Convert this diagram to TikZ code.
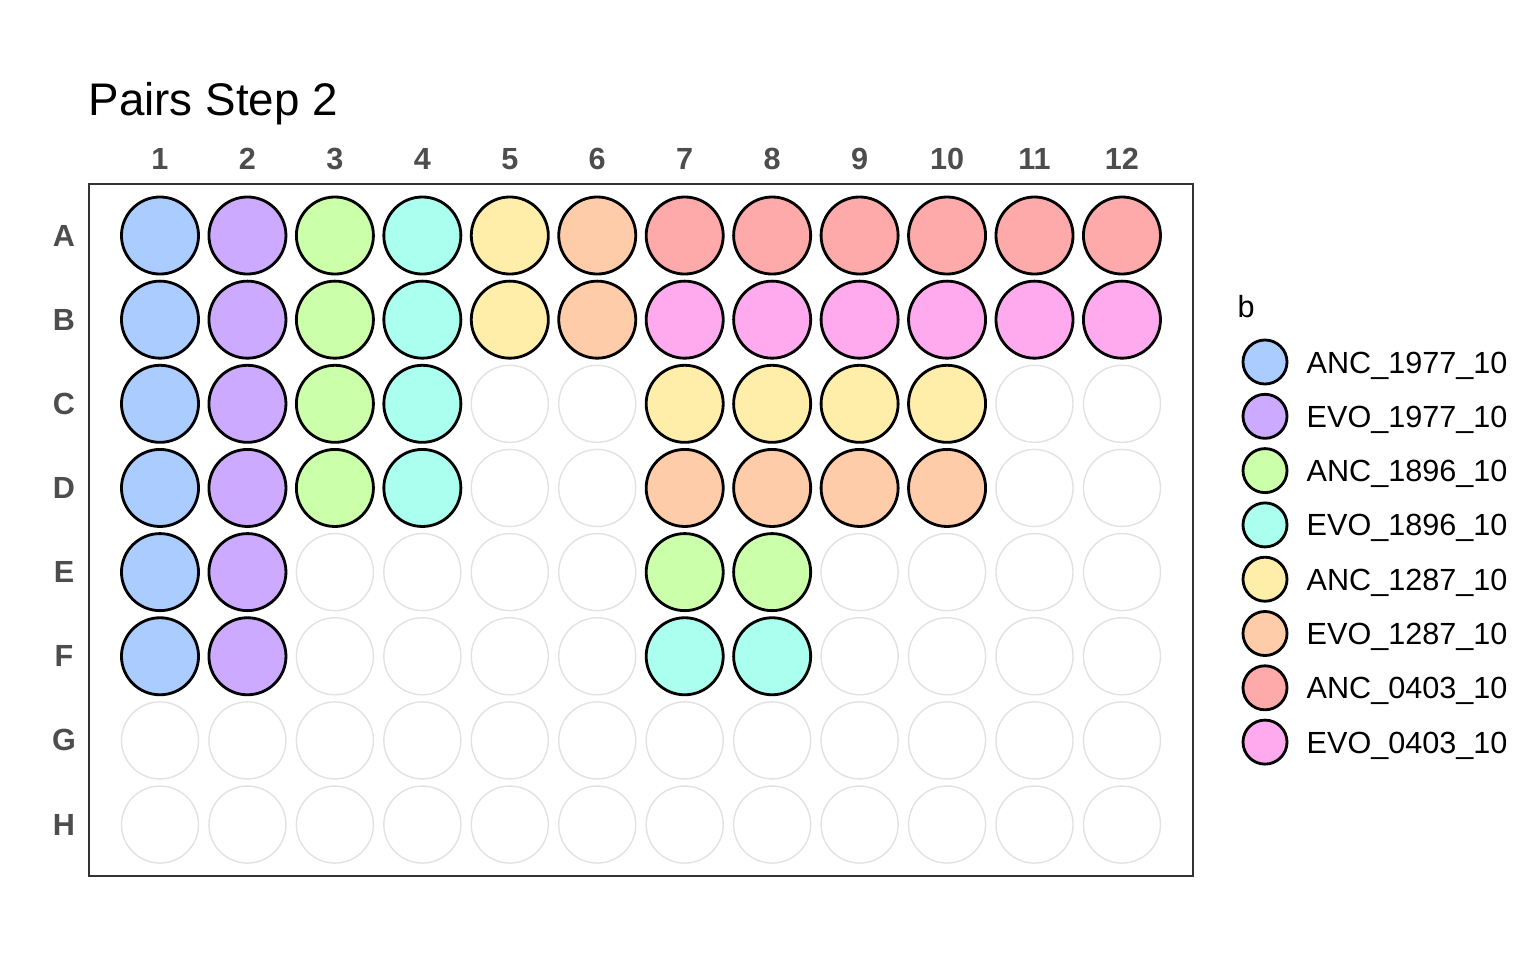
\documentclass[tikz,border=0pt]{standalone}
\usepackage{fontspec}
\setmainfont{Liberation Sans}
\usepackage{tikz}
\definecolor{ancblue}{RGB}{170, 204, 255}
\definecolor{evopurple}{RGB}{204, 170, 255}
\definecolor{ancgreen}{RGB}{204, 255, 170}
\definecolor{evocyan}{RGB}{170, 255, 238}
\definecolor{ancyellow}{RGB}{255, 238, 170}
\definecolor{evoorange}{RGB}{255, 204, 170}
\definecolor{ancred}{RGB}{255, 170, 170}
\definecolor{evopink}{RGB}{255, 170, 238}
\definecolor{emptygrey}{RGB}{226, 226, 226}
\definecolor{framegrey}{RGB}{51, 51, 51}
\definecolor{axisgrey}{RGB}{77, 77, 77}

\begin{document}
\begin{tikzpicture}[x=0.01cm, y=-0.01cm,
    well/.style={circle, inner sep=0, minimum size=0.77cm, draw=black, line width=0.8pt},
    key/.style={circle, inner sep=0, minimum size=0.44cm, draw=black, line width=0.8pt},
    well-no/.style={draw=emptygrey, line width=0.4pt, fill=white},
    well-bl/.style={fill=ancblue},
    well-pu/.style={fill=evopurple},
    well-gr/.style={fill=ancgreen},
    well-cy/.style={fill=evocyan},
    well-ye/.style={fill=ancyellow},
    well-or/.style={fill=evoorange},
    well-re/.style={fill=ancred},
    well-pi/.style={fill=evopink},
    axislabel/.style={font=\fontsize{8.7}{10}\selectfont\bfseries, text=axisgrey, inner sep=0},
    legendtext/.style={font=\fontsize{8.7}{10}\selectfont, inner sep=0}]
  \useasboundingbox (0, 0) rectangle (1536, 960);

  \node[font=\fontsize{13}{15}\selectfont, inner sep=0, anchor=base west] (title) at (88, 115) {Pairs Step 2};

  % plate
  \draw[framegrey, line width=0.7pt] (89, 184) rectangle (1193, 876);

  \foreach \i in {1, 2, ..., 12} {
    \node[axislabel] (col\i) at (160 + \i*87.45 - 87.45, 159) {\i};
  }

  \foreach \row/\fills [count=\j] in {
      A/{bl,pu,gr,cy,ye,or,re,re,re,re,re,re},
      B/{bl,pu,gr,cy,ye,or,pi,pi,pi,pi,pi,pi},
      C/{bl,pu,gr,cy,no,no,ye,ye,ye,ye,no,no},
      D/{bl,pu,gr,cy,no,no,or,or,or,or,no,no},
      E/{bl,pu,no,no,no,no,gr,gr,no,no,no,no},
      F/{bl,pu,no,no,no,no,cy,cy,no,no,no,no},
      G/{no,no,no,no,no,no,no,no,no,no,no,no},
      H/{no,no,no,no,no,no,no,no,no,no,no,no}} {
    \pgfmathsetmacro{\y}{235.5 + (\j - 1)*84.15};
    \node[axislabel] (row\row) at (64, \y) {\row};
    \foreach \c [count=\i] in \fills {
      \pgfmathsetmacro{\x}{160 + (\i - 1)*87.45};
      \node[well, well-\c] (\row\i) at (\x, \y) {};
    }
  }

  % legend
  \node[legendtext, anchor=base west] (legtitle) at (1237, 317) {b};
  \foreach \c/\name [count=\k] in {bl/ANC\_1977\_10, pu/EVO\_1977\_10,
      gr/ANC\_1896\_10, cy/EVO\_1896\_10, ye/ANC\_1287\_10,
      or/EVO\_1287\_10, re/ANC\_0403\_10, pi/EVO\_0403\_10} {
    \pgfmathsetmacro{\y}{362 + (\k - 1)*54.3};
    \node[key, well-\c] (key\k) at (1265, \y) {};
    \node[legendtext, anchor=base west] (label\k) at (1306, \y + 11) {\name};
  }
\end{tikzpicture}
\end{document}
